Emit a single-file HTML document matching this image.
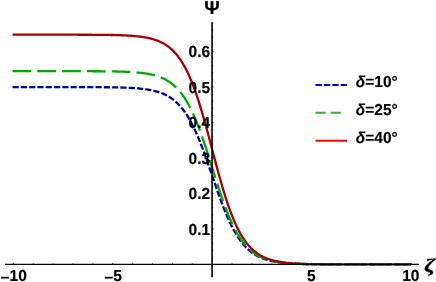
<!DOCTYPE html>
<html><head><meta charset="utf-8"><title>Plot</title>
<style>
html,body{margin:0;padding:0;background:#fff;}
body{width:436px;height:282px;overflow:hidden;}
svg{display:block;}
text{font-family:"Liberation Sans",sans-serif;font-weight:bold;fill:#000;text-rendering:geometricPrecision;}
.t{font-size:16px;stroke:#000;stroke-width:0.15px;}
.c{fill:none;stroke-width:2.3;}
</style></head><body>
<svg width="436" height="282" viewBox="0 0 436 282">
<rect width="436" height="282" fill="#fff"/>

<path class="c" d="M12.50 87.09 L13.50 87.09 L14.50 87.09 L15.49 87.09 L16.49 87.09 L17.49 87.09 L18.48 87.09 L19.48 87.09 L20.48 87.09 L21.47 87.09 L22.47 87.09 L23.47 87.09 L24.46 87.09 L25.46 87.09 L26.46 87.09 L27.45 87.09 L28.45 87.09 L29.44 87.09 L30.44 87.09 L31.44 87.09 L32.43 87.09 L33.43 87.09 L34.43 87.09 L35.42 87.09 L36.42 87.09 L37.42 87.09 L38.41 87.09 L39.41 87.09 L40.41 87.09 L41.40 87.09 L42.40 87.09 L43.40 87.09 L44.39 87.09 L45.39 87.09 L46.39 87.10 L47.38 87.10 L48.38 87.10 L49.37 87.10 L50.37 87.10 L51.37 87.10 L52.36 87.10 L53.36 87.10 L54.36 87.10 L55.35 87.10 L56.35 87.10 L57.35 87.10 L58.34 87.10 L59.34 87.10 L60.34 87.10 L61.33 87.10 L62.33 87.10 L63.33 87.10 L64.32 87.10 L65.32 87.10 L66.31 87.10 L67.31 87.10 L68.31 87.11 L69.30 87.11 L70.30 87.11 L71.30 87.11 L72.29 87.11 L73.29 87.11 L74.29 87.11 L75.28 87.11 L76.28 87.11 L77.28 87.12 L78.27 87.12 L79.27 87.12 L80.27 87.12 L81.26 87.12 L82.26 87.12 L83.26 87.13 L84.25 87.13 L85.25 87.13 L86.24 87.13 L87.24 87.14 L88.24 87.14 L89.23 87.14 L90.23 87.15 L91.23 87.15 L92.22 87.16 L93.22 87.16 L94.22 87.16 L95.21 87.17 L96.21 87.17 L97.21 87.18 L98.20 87.19 L99.20 87.19 L100.20 87.20 L101.19 87.21 L102.19 87.21 L103.18 87.22 L104.18 87.23 L105.18 87.24 L106.17 87.25 L107.17 87.26 L108.17 87.27 L109.16 87.29 L110.16 87.30 L111.16 87.31 L112.15 87.33 L113.15 87.35 L114.15 87.36 L115.14 87.38 L116.14 87.40 L117.14 87.42 L118.13 87.44 L119.13 87.47 L120.13 87.49 L121.12 87.52 L122.12 87.55 L123.11 87.58 L124.11 87.61 L125.11 87.65 L126.10 87.69 L127.10 87.73 L128.10 87.77 L129.09 87.82 L130.09 87.87 L131.09 87.92 L132.08 87.98 L133.08 88.04 L134.08 88.10 L135.07 88.17 L136.07 88.24 L137.07 88.32 L138.06 88.40 L139.06 88.49 L140.05 88.58 L141.05 88.68 L142.05 88.79 L143.04 88.91 L144.04 89.03 L145.04 89.16 L146.03 89.30 L147.03 89.45 L148.03 89.60 L149.02 89.77 L150.02 89.95 L151.02 90.14 L152.01 90.35 L153.01 90.57 L154.01 90.80 L155.00 91.04 L156.00 91.31 L157.00 91.59 L157.99 91.88 L158.99 92.20 L159.98 92.54 L160.98 92.90 L161.98 93.28 L162.97 93.68 L163.97 94.11 L164.97 94.57 L165.96 95.06 L166.96 95.58 L167.96 96.12 L168.95 96.71 L169.95 97.32 L170.95 97.98 L171.94 98.67 L172.94 99.40 L173.94 100.18 L174.93 101.00 L175.93 101.87 L176.93 102.79 L177.92 103.76 L178.92 104.78 L179.91 105.85 L180.91 106.99 L181.91 108.18 L182.90 109.44 L183.90 110.76 L184.90 112.14 L185.89 113.59 L186.89 115.11 L187.89 116.70 L188.88 118.36 L189.88 120.09 L190.88 121.90 L191.87 123.78 L192.87 125.74 L193.87 127.76 L194.86 129.87 L195.86 132.04 L196.85 134.29 L197.85 136.60 L198.85 138.99 L199.84 141.44 L200.84 143.95 L201.84 146.53 L202.83 149.16 L203.83 151.84 L204.83 154.57 L205.82 157.35 L206.82 160.16 L207.82 163.01 L208.81 165.88 L209.81 168.78 L210.81 171.69 L211.80 174.60 L212.80 177.53 L213.80 180.44 L214.79 183.35 L215.79 186.24 L216.78 189.11 L217.78 191.95 L218.78 194.75 L219.77 197.52 L220.77 200.24 L221.77 202.92 L222.76 205.54 L223.76 208.10 L224.76 210.60 L225.75 213.04 L226.75 215.41 L227.75 217.71 L228.74 219.95 L229.74 222.11 L230.74 224.19 L231.73 226.21 L232.73 228.15 L233.72 230.01 L234.72 231.80 L235.72 233.52 L236.71 235.17 L237.71 236.74 L238.71 238.25 L239.70 239.69 L240.70 241.06 L241.70 242.36 L242.69 243.61 L243.69 244.79 L244.69 245.91 L245.68 246.97 L246.68 247.99 L247.68 248.94 L248.67 249.85 L249.67 250.71 L250.67 251.52 L251.66 252.29 L252.66 253.01 L253.65 253.70 L254.65 254.35 L255.65 254.96 L256.64 255.53 L257.64 256.07 L258.64 256.58 L259.63 257.06 L260.63 257.52 L261.63 257.94 L262.62 258.34 L263.62 258.72 L264.62 259.07 L265.61 259.41 L266.61 259.72 L267.61 260.01 L268.60 260.29 L269.60 260.55 L270.60 260.79 L271.59 261.02 L272.59 261.24 L273.58 261.44 L274.58 261.63 L275.58 261.80 L276.57 261.97 L277.57 262.13 L278.57 262.27 L279.56 262.41 L280.56 262.54 L281.56 262.66 L282.55 262.77 L283.55 262.88 L284.55 262.98 L285.54 263.07 L286.54 263.16 L287.54 263.24 L288.53 263.32 L289.53 263.39 L290.52 263.46 L291.52 263.52 L292.52 263.58 L293.51 263.63 L294.51 263.69 L295.51 263.73 L296.50 263.78 L297.50 263.82 L298.50 263.86 L299.49 263.90 L300.49 263.93 L301.49 263.97 L302.48 264.00 L303.48 264.03 L304.48 264.05 L305.47 264.08 L306.47 264.10 L307.47 264.12 L308.46 264.15 L309.46 264.16 L310.45 264.18 L311.45 264.20 L312.45 264.22 L313.44 264.23 L314.44 264.24 L315.44 264.26 L316.43 264.27 L317.43 264.28 L318.43 264.29 L319.42 264.30 L320.42 264.31 L321.42 264.32 L322.41 264.33 L323.41 264.34 L324.41 264.34 L325.40 264.35 L326.40 264.36 L327.39 264.36 L328.39 264.37 L329.39 264.37 L330.38 264.38 L331.38 264.38 L332.38 264.39 L333.37 264.39 L334.37 264.39 L335.37 264.40 L336.36 264.40 L337.36 264.40 L338.36 264.41 L339.35 264.41 L340.35 264.41 L341.35 264.42 L342.34 264.42 L343.34 264.42 L344.34 264.42 L345.33 264.42 L346.33 264.43 L347.32 264.43 L348.32 264.43 L349.32 264.43 L350.31 264.43 L351.31 264.43 L352.31 264.43 L353.30 264.43 L354.30 264.44 L355.30 264.44 L356.29 264.44 L357.29 264.44 L358.29 264.44 L359.28 264.44 L360.28 264.44 L361.28 264.44 L362.27 264.44 L363.27 264.44 L364.27 264.44 L365.26 264.44 L366.26 264.44 L367.25 264.44 L368.25 264.44 L369.25 264.44 L370.24 264.44 L371.24 264.45 L372.24 264.45 L373.23 264.45 L374.23 264.45 L375.23 264.45 L376.22 264.45 L377.22 264.45 L378.22 264.45 L379.21 264.45 L380.21 264.45 L381.21 264.45 L382.20 264.45 L383.20 264.45 L384.19 264.45 L385.19 264.45 L386.19 264.45 L387.18 264.45 L388.18 264.45 L389.18 264.45 L390.17 264.45 L391.17 264.45 L392.17 264.45 L393.16 264.45 L394.16 264.45 L395.16 264.45 L396.15 264.45 L397.15 264.45 L398.15 264.45 L399.14 264.45 L400.14 264.45 L401.14 264.45 L402.13 264.45 L403.13 264.45 L404.12 264.45 L405.12 264.45 L406.12 264.45 L407.11 264.45 L408.11 264.45 L409.11 264.45 L410.10 264.45 L411.10 264.45" stroke="#0000aa" stroke-dasharray="6.2 2.1"/>
<path class="c" d="M12.50 71.15 L13.50 71.15 L14.50 71.15 L15.49 71.15 L16.49 71.15 L17.49 71.15 L18.48 71.15 L19.48 71.15 L20.48 71.15 L21.47 71.15 L22.47 71.15 L23.47 71.15 L24.46 71.15 L25.46 71.15 L26.46 71.15 L27.45 71.15 L28.45 71.15 L29.44 71.15 L30.44 71.15 L31.44 71.15 L32.43 71.15 L33.43 71.15 L34.43 71.15 L35.42 71.15 L36.42 71.15 L37.42 71.15 L38.41 71.15 L39.41 71.15 L40.41 71.15 L41.40 71.15 L42.40 71.16 L43.40 71.16 L44.39 71.16 L45.39 71.16 L46.39 71.16 L47.38 71.16 L48.38 71.16 L49.37 71.16 L50.37 71.16 L51.37 71.16 L52.36 71.16 L53.36 71.16 L54.36 71.16 L55.35 71.16 L56.35 71.16 L57.35 71.16 L58.34 71.16 L59.34 71.16 L60.34 71.16 L61.33 71.16 L62.33 71.16 L63.33 71.16 L64.32 71.16 L65.32 71.16 L66.31 71.17 L67.31 71.17 L68.31 71.17 L69.30 71.17 L70.30 71.17 L71.30 71.17 L72.29 71.17 L73.29 71.17 L74.29 71.17 L75.28 71.18 L76.28 71.18 L77.28 71.18 L78.27 71.18 L79.27 71.18 L80.27 71.18 L81.26 71.19 L82.26 71.19 L83.26 71.19 L84.25 71.19 L85.25 71.20 L86.24 71.20 L87.24 71.20 L88.24 71.21 L89.23 71.21 L90.23 71.21 L91.23 71.22 L92.22 71.22 L93.22 71.23 L94.22 71.23 L95.21 71.24 L96.21 71.24 L97.21 71.25 L98.20 71.26 L99.20 71.26 L100.20 71.27 L101.19 71.28 L102.19 71.29 L103.18 71.30 L104.18 71.31 L105.18 71.32 L106.17 71.33 L107.17 71.34 L108.17 71.35 L109.16 71.36 L110.16 71.38 L111.16 71.39 L112.15 71.41 L113.15 71.43 L114.15 71.45 L115.14 71.47 L116.14 71.49 L117.14 71.51 L118.13 71.54 L119.13 71.56 L120.13 71.59 L121.12 71.62 L122.12 71.65 L123.11 71.69 L124.11 71.72 L125.11 71.76 L126.10 71.80 L127.10 71.85 L128.10 71.89 L129.09 71.94 L130.09 72.00 L131.09 72.05 L132.08 72.12 L133.08 72.18 L134.08 72.25 L135.07 72.32 L136.07 72.40 L137.07 72.49 L138.06 72.58 L139.06 72.68 L140.05 72.78 L141.05 72.89 L142.05 73.01 L143.04 73.13 L144.04 73.26 L145.04 73.41 L146.03 73.56 L147.03 73.72 L148.03 73.89 L149.02 74.07 L150.02 74.27 L151.02 74.48 L152.01 74.70 L153.01 74.94 L154.01 75.19 L155.00 75.46 L156.00 75.75 L157.00 76.05 L157.99 76.37 L158.99 76.72 L159.98 77.09 L160.98 77.48 L161.98 77.89 L162.97 78.34 L163.97 78.81 L164.97 79.31 L165.96 79.84 L166.96 80.40 L167.96 81.00 L168.95 81.63 L169.95 82.30 L170.95 83.02 L171.94 83.77 L172.94 84.57 L173.94 85.42 L174.93 86.31 L175.93 87.26 L176.93 88.26 L177.92 89.31 L178.92 90.43 L179.91 91.60 L180.91 92.84 L181.91 94.14 L182.90 95.51 L183.90 96.94 L184.90 98.45 L185.89 100.03 L186.89 101.69 L187.89 103.42 L188.88 105.23 L189.88 107.12 L190.88 109.09 L191.87 111.14 L192.87 113.27 L193.87 115.48 L194.86 117.77 L195.86 120.14 L196.85 122.59 L197.85 125.11 L198.85 127.71 L199.84 130.38 L200.84 133.12 L201.84 135.93 L202.83 138.80 L203.83 141.72 L204.83 144.70 L205.82 147.72 L206.82 150.79 L207.82 153.89 L208.81 157.02 L209.81 160.18 L210.81 163.35 L211.80 166.53 L212.80 169.71 L213.80 172.89 L214.79 176.06 L215.79 179.21 L216.78 182.34 L217.78 185.43 L218.78 188.49 L219.77 191.51 L220.77 194.47 L221.77 197.39 L222.76 200.24 L223.76 203.04 L224.76 205.76 L225.75 208.42 L226.75 211.00 L227.75 213.51 L228.74 215.95 L229.74 218.30 L230.74 220.58 L231.73 222.77 L232.73 224.88 L233.72 226.92 L234.72 228.87 L235.72 230.74 L236.71 232.54 L237.71 234.25 L238.71 235.89 L239.70 237.46 L240.70 238.95 L241.70 240.38 L242.69 241.73 L243.69 243.02 L244.69 244.24 L245.68 245.40 L246.68 246.51 L247.68 247.55 L248.67 248.54 L249.67 249.47 L250.67 250.36 L251.66 251.20 L252.66 251.99 L253.65 252.73 L254.65 253.44 L255.65 254.10 L256.64 254.73 L257.64 255.32 L258.64 255.88 L259.63 256.40 L260.63 256.89 L261.63 257.36 L262.62 257.79 L263.62 258.20 L264.62 258.59 L265.61 258.95 L266.61 259.29 L267.61 259.62 L268.60 259.92 L269.60 260.20 L270.60 260.46 L271.59 260.71 L272.59 260.95 L273.58 261.17 L274.58 261.37 L275.58 261.57 L276.57 261.75 L277.57 261.92 L278.57 262.08 L279.56 262.23 L280.56 262.37 L281.56 262.50 L282.55 262.62 L283.55 262.74 L284.55 262.85 L285.54 262.95 L286.54 263.04 L287.54 263.13 L288.53 263.21 L289.53 263.29 L290.52 263.37 L291.52 263.44 L292.52 263.50 L293.51 263.56 L294.51 263.62 L295.51 263.67 L296.50 263.72 L297.50 263.77 L298.50 263.81 L299.49 263.85 L300.49 263.89 L301.49 263.92 L302.48 263.96 L303.48 263.99 L304.48 264.02 L305.47 264.05 L306.47 264.07 L307.47 264.10 L308.46 264.12 L309.46 264.14 L310.45 264.16 L311.45 264.18 L312.45 264.19 L313.44 264.21 L314.44 264.23 L315.44 264.24 L316.43 264.25 L317.43 264.27 L318.43 264.28 L319.42 264.29 L320.42 264.30 L321.42 264.31 L322.41 264.32 L323.41 264.33 L324.41 264.33 L325.40 264.34 L326.40 264.35 L327.39 264.35 L328.39 264.36 L329.39 264.37 L330.38 264.37 L331.38 264.38 L332.38 264.38 L333.37 264.39 L334.37 264.39 L335.37 264.39 L336.36 264.40 L337.36 264.40 L338.36 264.40 L339.35 264.41 L340.35 264.41 L341.35 264.41 L342.34 264.41 L343.34 264.42 L344.34 264.42 L345.33 264.42 L346.33 264.42 L347.32 264.42 L348.32 264.43 L349.32 264.43 L350.31 264.43 L351.31 264.43 L352.31 264.43 L353.30 264.43 L354.30 264.43 L355.30 264.43 L356.29 264.44 L357.29 264.44 L358.29 264.44 L359.28 264.44 L360.28 264.44 L361.28 264.44 L362.27 264.44 L363.27 264.44 L364.27 264.44 L365.26 264.44 L366.26 264.44 L367.25 264.44 L368.25 264.44 L369.25 264.44 L370.24 264.44 L371.24 264.44 L372.24 264.45 L373.23 264.45 L374.23 264.45 L375.23 264.45 L376.22 264.45 L377.22 264.45 L378.22 264.45 L379.21 264.45 L380.21 264.45 L381.21 264.45 L382.20 264.45 L383.20 264.45 L384.19 264.45 L385.19 264.45 L386.19 264.45 L387.18 264.45 L388.18 264.45 L389.18 264.45 L390.17 264.45 L391.17 264.45 L392.17 264.45 L393.16 264.45 L394.16 264.45 L395.16 264.45 L396.15 264.45 L397.15 264.45 L398.15 264.45 L399.14 264.45 L400.14 264.45 L401.14 264.45 L402.13 264.45 L403.13 264.45 L404.12 264.45 L405.12 264.45 L406.12 264.45 L407.11 264.45 L408.11 264.45 L409.11 264.45 L410.10 264.45 L411.10 264.45" stroke="#00aa00" stroke-dasharray="18.7 6.1"/>
<path class="c" d="M12.50 34.69 L13.50 34.69 L14.50 34.69 L15.49 34.69 L16.49 34.69 L17.49 34.69 L18.48 34.69 L19.48 34.69 L20.48 34.69 L21.47 34.69 L22.47 34.69 L23.47 34.69 L24.46 34.69 L25.46 34.69 L26.46 34.70 L27.45 34.70 L28.45 34.70 L29.44 34.70 L30.44 34.70 L31.44 34.70 L32.43 34.70 L33.43 34.70 L34.43 34.70 L35.42 34.70 L36.42 34.70 L37.42 34.70 L38.41 34.70 L39.41 34.70 L40.41 34.70 L41.40 34.70 L42.40 34.70 L43.40 34.70 L44.39 34.70 L45.39 34.70 L46.39 34.70 L47.38 34.70 L48.38 34.70 L49.37 34.70 L50.37 34.70 L51.37 34.70 L52.36 34.70 L53.36 34.70 L54.36 34.70 L55.35 34.70 L56.35 34.70 L57.35 34.70 L58.34 34.70 L59.34 34.70 L60.34 34.70 L61.33 34.70 L62.33 34.71 L63.33 34.71 L64.32 34.71 L65.32 34.71 L66.31 34.71 L67.31 34.71 L68.31 34.71 L69.30 34.71 L70.30 34.71 L71.30 34.71 L72.29 34.72 L73.29 34.72 L74.29 34.72 L75.28 34.72 L76.28 34.72 L77.28 34.72 L78.27 34.73 L79.27 34.73 L80.27 34.73 L81.26 34.73 L82.26 34.74 L83.26 34.74 L84.25 34.74 L85.25 34.75 L86.24 34.75 L87.24 34.75 L88.24 34.76 L89.23 34.76 L90.23 34.77 L91.23 34.77 L92.22 34.78 L93.22 34.78 L94.22 34.79 L95.21 34.79 L96.21 34.80 L97.21 34.81 L98.20 34.82 L99.20 34.82 L100.20 34.83 L101.19 34.84 L102.19 34.85 L103.18 34.86 L104.18 34.88 L105.18 34.89 L106.17 34.90 L107.17 34.92 L108.17 34.93 L109.16 34.95 L110.16 34.96 L111.16 34.98 L112.15 35.00 L113.15 35.02 L114.15 35.04 L115.14 35.07 L116.14 35.09 L117.14 35.12 L118.13 35.15 L119.13 35.18 L120.13 35.21 L121.12 35.25 L122.12 35.29 L123.11 35.33 L124.11 35.37 L125.11 35.42 L126.10 35.47 L127.10 35.52 L128.10 35.57 L129.09 35.63 L130.09 35.70 L131.09 35.77 L132.08 35.84 L133.08 35.92 L134.08 36.00 L135.07 36.09 L136.07 36.18 L137.07 36.28 L138.06 36.39 L139.06 36.50 L140.05 36.63 L141.05 36.76 L142.05 36.90 L143.04 37.04 L144.04 37.20 L145.04 37.37 L146.03 37.55 L147.03 37.74 L148.03 37.95 L149.02 38.17 L150.02 38.40 L151.02 38.65 L152.01 38.91 L153.01 39.19 L154.01 39.49 L155.00 39.81 L156.00 40.15 L157.00 40.52 L157.99 40.90 L158.99 41.31 L159.98 41.75 L160.98 42.21 L161.98 42.71 L162.97 43.23 L163.97 43.79 L164.97 44.38 L165.96 45.02 L166.96 45.68 L167.96 46.39 L168.95 47.15 L169.95 47.95 L170.95 48.79 L171.94 49.69 L172.94 50.64 L173.94 51.65 L174.93 52.71 L175.93 53.84 L176.93 55.03 L177.92 56.28 L178.92 57.60 L179.91 59.00 L180.91 60.47 L181.91 62.02 L182.90 63.64 L183.90 65.35 L184.90 67.14 L185.89 69.02 L186.89 70.99 L187.89 73.05 L188.88 75.20 L189.88 77.45 L190.88 79.79 L191.87 82.22 L192.87 84.75 L193.87 87.38 L194.86 90.10 L195.86 92.92 L196.85 95.83 L197.85 98.83 L198.85 101.92 L199.84 105.10 L200.84 108.35 L201.84 111.69 L202.83 115.10 L203.83 118.57 L204.83 122.11 L205.82 125.71 L206.82 129.35 L207.82 133.04 L208.81 136.76 L209.81 140.51 L210.81 144.28 L211.80 148.06 L212.80 151.85 L213.80 155.62 L214.79 159.39 L215.79 163.13 L216.78 166.85 L217.78 170.53 L218.78 174.16 L219.77 177.75 L220.77 181.28 L221.77 184.74 L222.76 188.13 L223.76 191.45 L224.76 194.69 L225.75 197.85 L226.75 200.92 L227.75 203.91 L228.74 206.80 L229.74 209.60 L230.74 212.30 L231.73 214.91 L232.73 217.42 L233.72 219.84 L234.72 222.16 L235.72 224.38 L236.71 226.52 L237.71 228.56 L238.71 230.51 L239.70 232.37 L240.70 234.15 L241.70 235.84 L242.69 237.45 L243.69 238.98 L244.69 240.43 L245.68 241.81 L246.68 243.12 L247.68 244.36 L248.67 245.54 L249.67 246.65 L250.67 247.70 L251.66 248.70 L252.66 249.64 L253.65 250.52 L254.65 251.36 L255.65 252.15 L256.64 252.90 L257.64 253.60 L258.64 254.26 L259.63 254.88 L260.63 255.47 L261.63 256.02 L262.62 256.54 L263.62 257.03 L264.62 257.49 L265.61 257.92 L266.61 258.32 L267.61 258.70 L268.60 259.06 L269.60 259.40 L270.60 259.71 L271.59 260.01 L272.59 260.29 L273.58 260.55 L274.58 260.79 L275.58 261.02 L276.57 261.24 L277.57 261.44 L278.57 261.63 L279.56 261.81 L280.56 261.97 L281.56 262.13 L282.55 262.28 L283.55 262.41 L284.55 262.54 L285.54 262.66 L286.54 262.78 L287.54 262.88 L288.53 262.98 L289.53 263.07 L290.52 263.16 L291.52 263.24 L292.52 263.32 L293.51 263.39 L294.51 263.46 L295.51 263.52 L296.50 263.58 L297.50 263.64 L298.50 263.69 L299.49 263.74 L300.49 263.78 L301.49 263.82 L302.48 263.86 L303.48 263.90 L304.48 263.94 L305.47 263.97 L306.47 264.00 L307.47 264.03 L308.46 264.06 L309.46 264.08 L310.45 264.10 L311.45 264.13 L312.45 264.15 L313.44 264.17 L314.44 264.18 L315.44 264.20 L316.43 264.22 L317.43 264.23 L318.43 264.25 L319.42 264.26 L320.42 264.27 L321.42 264.28 L322.41 264.29 L323.41 264.30 L324.41 264.31 L325.40 264.32 L326.40 264.33 L327.39 264.34 L328.39 264.34 L329.39 264.35 L330.38 264.36 L331.38 264.36 L332.38 264.37 L333.37 264.37 L334.37 264.38 L335.37 264.38 L336.36 264.39 L337.36 264.39 L338.36 264.40 L339.35 264.40 L340.35 264.40 L341.35 264.41 L342.34 264.41 L343.34 264.41 L344.34 264.41 L345.33 264.42 L346.33 264.42 L347.32 264.42 L348.32 264.42 L349.32 264.42 L350.31 264.43 L351.31 264.43 L352.31 264.43 L353.30 264.43 L354.30 264.43 L355.30 264.43 L356.29 264.43 L357.29 264.43 L358.29 264.44 L359.28 264.44 L360.28 264.44 L361.28 264.44 L362.27 264.44 L363.27 264.44 L364.27 264.44 L365.26 264.44 L366.26 264.44 L367.25 264.44 L368.25 264.44 L369.25 264.44 L370.24 264.44 L371.24 264.44 L372.24 264.44 L373.23 264.44 L374.23 264.44 L375.23 264.45 L376.22 264.45 L377.22 264.45 L378.22 264.45 L379.21 264.45 L380.21 264.45 L381.21 264.45 L382.20 264.45 L383.20 264.45 L384.19 264.45 L385.19 264.45 L386.19 264.45 L387.18 264.45 L388.18 264.45 L389.18 264.45 L390.17 264.45 L391.17 264.45 L392.17 264.45 L393.16 264.45 L394.16 264.45 L395.16 264.45 L396.15 264.45 L397.15 264.45 L398.15 264.45 L399.14 264.45 L400.14 264.45 L401.14 264.45 L402.13 264.45 L403.13 264.45 L404.12 264.45 L405.12 264.45 L406.12 264.45 L407.11 264.45 L408.11 264.45 L409.11 264.45 L410.10 264.45 L411.10 264.45" stroke="#aa0000"/>
<g stroke="#000" fill="none">
<line x1="5.0" y1="264.45" x2="418.9" y2="264.45" stroke-width="1.3"/>
<line x1="212.05" y1="22.3" x2="212.05" y2="277.30" stroke-width="1.6"/>
</g>
<g stroke="#000" stroke-width="0.8" fill="none">
<line x1="13.30" y1="264.45" x2="13.30" y2="262.85"/>
<line x1="33.19" y1="264.45" x2="33.19" y2="263.30"/>
<line x1="53.08" y1="264.45" x2="53.08" y2="263.30"/>
<line x1="72.97" y1="264.45" x2="72.97" y2="263.30"/>
<line x1="92.86" y1="264.45" x2="92.86" y2="263.30"/>
<line x1="112.75" y1="264.45" x2="112.75" y2="262.85"/>
<line x1="132.64" y1="264.45" x2="132.64" y2="263.30"/>
<line x1="152.53" y1="264.45" x2="152.53" y2="263.30"/>
<line x1="172.42" y1="264.45" x2="172.42" y2="263.30"/>
<line x1="192.31" y1="264.45" x2="192.31" y2="263.30"/>
<line x1="232.09" y1="264.45" x2="232.09" y2="263.30"/>
<line x1="251.98" y1="264.45" x2="251.98" y2="263.30"/>
<line x1="271.87" y1="264.45" x2="271.87" y2="263.30"/>
<line x1="291.76" y1="264.45" x2="291.76" y2="263.30"/>
<line x1="311.65" y1="264.45" x2="311.65" y2="262.85"/>
<line x1="331.54" y1="264.45" x2="331.54" y2="263.30"/>
<line x1="351.43" y1="264.45" x2="351.43" y2="263.30"/>
<line x1="371.32" y1="264.45" x2="371.32" y2="263.30"/>
<line x1="391.21" y1="264.45" x2="391.21" y2="263.30"/>
<line x1="411.10" y1="264.45" x2="411.10" y2="262.85"/>
<line x1="212.05" y1="271.55" x2="213.20" y2="271.55"/>
<line x1="212.05" y1="257.35" x2="213.20" y2="257.35"/>
<line x1="212.05" y1="250.25" x2="213.20" y2="250.25"/>
<line x1="212.05" y1="243.15" x2="213.20" y2="243.15"/>
<line x1="212.05" y1="236.05" x2="213.20" y2="236.05"/>
<line x1="212.05" y1="228.95" x2="213.65" y2="228.95"/>
<line x1="212.05" y1="221.85" x2="213.20" y2="221.85"/>
<line x1="212.05" y1="214.75" x2="213.20" y2="214.75"/>
<line x1="212.05" y1="207.65" x2="213.20" y2="207.65"/>
<line x1="212.05" y1="200.55" x2="213.20" y2="200.55"/>
<line x1="212.05" y1="193.45" x2="213.65" y2="193.45"/>
<line x1="212.05" y1="186.35" x2="213.20" y2="186.35"/>
<line x1="212.05" y1="179.25" x2="213.20" y2="179.25"/>
<line x1="212.05" y1="172.15" x2="213.20" y2="172.15"/>
<line x1="212.05" y1="165.05" x2="213.20" y2="165.05"/>
<line x1="212.05" y1="157.95" x2="213.65" y2="157.95"/>
<line x1="212.05" y1="150.85" x2="213.20" y2="150.85"/>
<line x1="212.05" y1="143.75" x2="213.20" y2="143.75"/>
<line x1="212.05" y1="136.65" x2="213.20" y2="136.65"/>
<line x1="212.05" y1="129.55" x2="213.20" y2="129.55"/>
<line x1="212.05" y1="122.45" x2="213.65" y2="122.45"/>
<line x1="212.05" y1="115.35" x2="213.20" y2="115.35"/>
<line x1="212.05" y1="108.25" x2="213.20" y2="108.25"/>
<line x1="212.05" y1="101.15" x2="213.20" y2="101.15"/>
<line x1="212.05" y1="94.05" x2="213.20" y2="94.05"/>
<line x1="212.05" y1="86.95" x2="213.65" y2="86.95"/>
<line x1="212.05" y1="79.85" x2="213.20" y2="79.85"/>
<line x1="212.05" y1="72.75" x2="213.20" y2="72.75"/>
<line x1="212.05" y1="65.65" x2="213.20" y2="65.65"/>
<line x1="212.05" y1="58.55" x2="213.20" y2="58.55"/>
<line x1="212.05" y1="51.45" x2="213.65" y2="51.45"/>
<line x1="212.05" y1="44.35" x2="213.20" y2="44.35"/>
<line x1="212.05" y1="37.25" x2="213.20" y2="37.25"/>
<line x1="212.05" y1="30.15" x2="213.20" y2="30.15"/>
<line x1="212.05" y1="23.05" x2="213.20" y2="23.05"/>
</g>
<text class="t" transform="translate(13.60 281.20) scale(0.9700 1)" text-anchor="middle"><tspan dy="1.9">−</tspan><tspan dy="-1.9">10</tspan></text>
<text class="t" transform="translate(113.05 281.20) scale(0.9700 1)" text-anchor="middle"><tspan dy="1.9">−</tspan><tspan dy="-1.9">5</tspan></text>
<text class="t" transform="translate(311.35 281.20) scale(0.9700 1)" text-anchor="middle">5</text>
<text class="t" transform="translate(410.80 281.20) scale(0.9700 1)" text-anchor="middle">10</text>
<text class="t" transform="translate(210.15 234.75) scale(0.9700 1)" text-anchor="end">0.1</text>
<text class="t" transform="translate(210.15 199.25) scale(0.9700 1)" text-anchor="end">0.2</text>
<text class="t" transform="translate(210.15 163.75) scale(0.9700 1)" text-anchor="end">0.3</text>
<text class="t" transform="translate(210.15 128.25) scale(0.9700 1)" text-anchor="end">0.4</text>
<text class="t" transform="translate(210.15 92.75) scale(0.9700 1)" text-anchor="end">0.5</text>
<text class="t" transform="translate(210.15 57.25) scale(0.9700 1)" text-anchor="end">0.6</text>
<text style="font-size:18.6px;stroke:#000;stroke-width:0.2px" transform="translate(212.00 13.70) scale(1.0300 1)" text-anchor="middle">Ψ</text>
<text style="font-size:19.4px;font-style:italic;font-family:'Liberation Serif',serif;stroke:#000;stroke-width:0.3px" transform="translate(429.60 271.80) scale(1.2700 1)" text-anchor="middle">ζ</text>
<line x1="315.5" y1="84.9" x2="347" y2="84.9" stroke="#0000ff" stroke-width="2.0" stroke-dasharray="6.4 2"/>
<text style="font-size:15.9px;stroke:#000;stroke-width:0.15px" transform="translate(355.80 87.00) scale(0.9750 1)" text-anchor="start"><tspan style="font-style:italic">δ</tspan>=10°</text>
<line x1="315.5" y1="112.8" x2="347" y2="112.8" stroke="#33b333" stroke-width="2.0" stroke-dasharray="10.2 4.9 10.2 100"/>
<text style="font-size:15.9px;stroke:#000;stroke-width:0.15px" transform="translate(355.80 114.90) scale(0.9750 1)" text-anchor="start"><tspan style="font-style:italic">δ</tspan>=25°</text>
<line x1="315.5" y1="140.7" x2="347" y2="140.7" stroke="#ff0000" stroke-width="2.0"/>
<text style="font-size:15.9px;stroke:#000;stroke-width:0.15px" transform="translate(355.80 142.80) scale(0.9750 1)" text-anchor="start"><tspan style="font-style:italic">δ</tspan>=40°</text>
</svg>
</body></html>
